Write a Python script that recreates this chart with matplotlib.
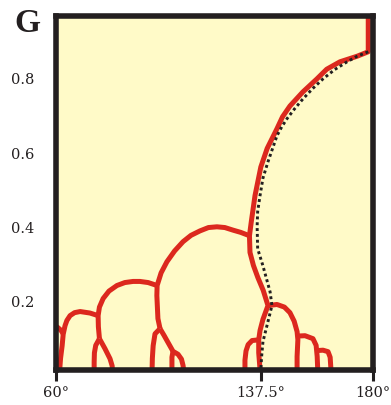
import matplotlib.pyplot as plt

# divergence angle (deg) and G for each red branch
trunk_deg = [178.2, 178.2, 174.0, 167.5, 162.5, 158.8, 153.5, 148.6, 145.8, 143.7, 140.0,
             137.6, 135.4, 134.0, 133.3, 133.5, 134.8, 136.5, 138.5, 140.3, 138.4,
             137.3, 136.8, 136.8, 137.3]
trunk_g = [0.965, 0.870, 0.858, 0.843, 0.823, 0.797, 0.762, 0.724, 0.695, 0.663, 0.610,
           0.560, 0.483, 0.413, 0.375, 0.330, 0.295, 0.262, 0.228, 0.187, 0.150,
           0.120, 0.095, 0.060, 0.015]

arch_r1_deg = [140.3, 143.7, 146.5, 148.6, 150.2, 151.3, 151.6, 151.3, 151.3]
arch_r1_g = [0.187, 0.190, 0.183, 0.168, 0.145, 0.117, 0.095, 0.050, 0.015]

arch_r2_deg = [151.5, 154.3, 157.3, 158.5, 158.9, 159.1]
arch_r2_g = [0.105, 0.106, 0.098, 0.080, 0.050, 0.015]

arch_r3_deg = [158.9, 161.1, 163.0, 163.8, 164.1]
arch_r3_g = [0.066, 0.067, 0.063, 0.048, 0.015]

arch_l0_deg = [137.0, 134.3, 132.8, 132.0, 131.6, 131.6]
arch_l0_g = [0.095, 0.093, 0.082, 0.065, 0.040, 0.015]

big_arc_deg = [133.3, 130.0, 127.1, 124.0, 121.0, 117.8, 114.6, 111.2, 108.2, 105.0,
               102.1, 99.9, 98.4, 98.3, 98.7, 99.5]
big_arc_g = [0.375, 0.384, 0.390, 0.397, 0.399, 0.397, 0.388, 0.376, 0.359, 0.334,
             0.305, 0.275, 0.241, 0.214, 0.152, 0.125]

fork_a_deg = [99.5, 101.0, 102.5, 104.4, 106.3, 107.6, 108.2, 108.4]
fork_a_g = [0.125, 0.107, 0.088, 0.064, 0.056, 0.043, 0.026, 0.015]

fork_b_deg = [104.4, 104.0, 104.0]
fork_b_g = [0.064, 0.048, 0.015]

fork_c_deg = [99.5, 97.6, 96.9, 96.6, 96.5]
fork_c_g = [0.125, 0.111, 0.079, 0.045, 0.015]

arc2_deg = [98.4, 95.0, 91.9, 89.3, 86.2, 83.2, 80.2, 78.0, 76.6, 76.1, 76.2, 76.6]
arc2_g = [0.241, 0.249, 0.252, 0.252, 0.249, 0.241, 0.226, 0.206, 0.183, 0.160, 0.130, 0.098]

arc2_a_deg = [76.6, 78.7, 80.6, 81.4, 81.5]
arc2_a_g = [0.098, 0.071, 0.044, 0.025, 0.015]

arc2_b_deg = [76.6, 75.2, 74.7, 74.6, 74.6]
arc2_b_g = [0.098, 0.080, 0.060, 0.035, 0.015]

arc3_deg = [76.1, 73.0, 69.3, 67.2, 65.5, 64.3, 63.6, 62.9, 62.5, 61.9, 61.7, 61.6]
arc3_g = [0.160, 0.167, 0.171, 0.168, 0.160, 0.147, 0.133, 0.110, 0.079, 0.045, 0.026, 0.015]

stub_deg = [59.5, 60.7, 62.0, 63.0]
stub_g = [0.131, 0.129, 0.121, 0.110]

# dotted branch
dot_deg = [178.2, 174.0, 170.2, 165.5, 161.1, 157.2, 153.5, 150.3, 147.5, 145.5, 143.7,
           140.3, 138.4, 137.3, 136.4, 136.2, 136.4, 138.4, 141.1, 141.8, 140.3,
           138.4, 137.9, 137.6]
dot_g = [0.870, 0.858, 0.843, 0.822, 0.797, 0.771, 0.743, 0.716, 0.690, 0.668, 0.644,
         0.574, 0.530, 0.483, 0.440, 0.400, 0.340, 0.294, 0.224, 0.187, 0.144,
         0.090, 0.050, 0.015]

branches = [
    (trunk_deg, trunk_g), (arch_r1_deg, arch_r1_g), (arch_r2_deg, arch_r2_g),
    (arch_r3_deg, arch_r3_g), (arch_l0_deg, arch_l0_g), (big_arc_deg, big_arc_g),
    (fork_a_deg, fork_a_g), (fork_b_deg, fork_b_g), (fork_c_deg, fork_c_g),
    (arc2_deg, arc2_g), (arc2_a_deg, arc2_a_g), (arc2_b_deg, arc2_b_g),
    (arc3_deg, arc3_g), (stub_deg, stub_g),
]

x_ticks = [60, 137.5, 180]
x_labels = ["60°", "137.5°", "180°"]
y_ticks = [0.2, 0.4, 0.6, 0.8]
y_labels = ["0.2", "0.4", "0.6", "0.8"]

red = "#dc281e"
ink = "#231f20"

fig = plt.figure(figsize=(3.91, 4.06), dpi=100)
ax = fig.add_axes([0.142, 0.0874, 0.812, 0.8696])
ax.set_facecolor("#fffac8")

for d, g in branches:
    ax.plot(d, g, color=red, lw=3.6, solid_capstyle="butt", solid_joinstyle="round", zorder=2)

ax.plot(dot_deg, dot_g, color=ink, lw=2.1, linestyle=(0, (1, 1.0)), zorder=3)

ax.set_xlim(60, 180)
ax.set_ylim(0.015, 0.965)

for s in ax.spines.values():
    s.set_linewidth(4.0)
    s.set_color(ink)
    s.set_zorder(4)

ax.set_xticks(x_ticks)
ax.set_xticklabels(x_labels, family="DejaVu Serif", fontsize=10.5, color=ink)
ax.set_yticks(y_ticks)
ax.set_yticklabels(y_labels, family="DejaVu Serif", fontsize=10.5, color=ink)
ax.tick_params(axis="x", length=8, width=2.2, color=ink, pad=3.5)
ax.tick_params(axis="y", length=0, pad=15)

fig.text(14 / 391, 1 - 32 / 406, "G", family="Liberation Serif", fontweight="bold",
         fontsize=24, color=ink, ha="left", va="baseline")

fig.savefig("out.png", dpi=100)
